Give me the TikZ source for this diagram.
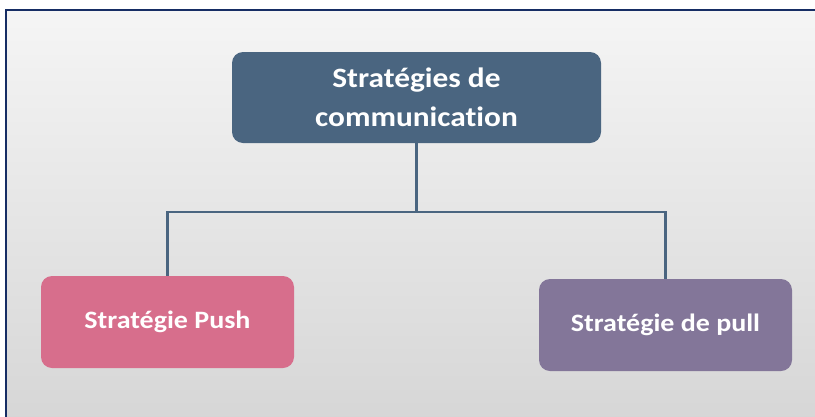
\documentclass[tikz,border=0pt]{standalone}
\usepackage{fontspec}
\setmainfont{Carlito}[FakeStretch=1.12, Ligatures=NoCommon]
\definecolor{slate}{RGB}{74,101,128}
\definecolor{pinkbox}{RGB}{215,110,140}
\definecolor{purplebox}{RGB}{131,118,153}
\definecolor{navy}{RGB}{22,45,100}
\tikzset{
  box/.style={rounded corners=11pt, inner sep=0pt, align=center, text=white, font=\bfseries},
  link/.style={draw=slate, line width=2.8pt}
}
\begin{document}
\begin{tikzpicture}[x=1pt,y=-1pt]
\useasboundingbox (0,0) rectangle (815,416);
\clip (0,0) rectangle (815,416);
\fill[white] (-5,-5) rectangle (830,430);
\shade[top color=white!96!black, bottom color=white!84!black] (6,10) rectangle (830,420);
\draw[navy, line width=2pt] (6,430) -- (6,10) -- (830,10);
\node[box, fill=slate, minimum width=369pt, minimum height=91pt, font=\bfseries\fontsize{28}{39}\selectfont] (top) at (416.5,97.5) {Stratégies de\\communication};
\node[box, fill=pinkbox, minimum width=253pt, minimum height=92pt, font=\bfseries\fontsize{25}{30}\selectfont] (push) at (167.5,322) {Stratégie Push};
\node[box, fill=purplebox, minimum width=253pt, minimum height=92pt, font=\bfseries\fontsize{25}{30}\selectfont] (pull) at (665.5,325) {Stratégie de pull};
\coordinate (mid) at (416.5,212);
\draw[link] (top.south) -- (mid);
\draw[link] (mid) -| (push.north);
\draw[link] (mid) -| (pull.north);
\end{tikzpicture}
\end{document}
